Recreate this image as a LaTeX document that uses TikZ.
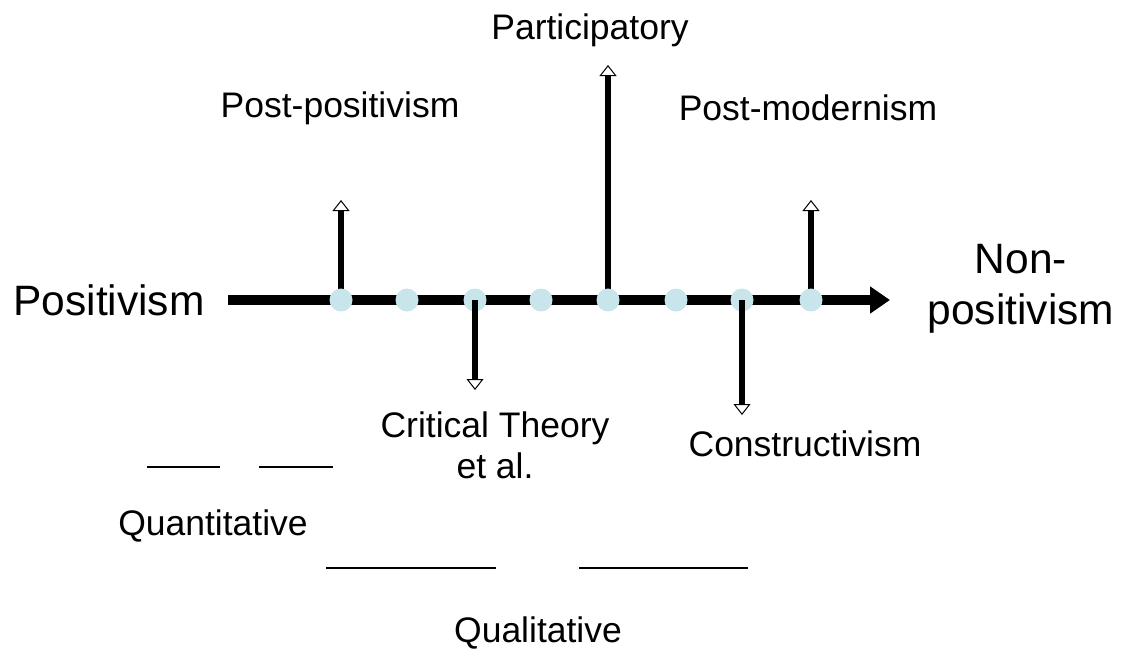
\documentclass[tikz,border=0pt]{standalone}
\usepackage{fontspec}
\setmainfont{Liberation Sans}
\usetikzlibrary{arrows.meta}
\begin{document}
\begin{tikzpicture}[x=1pt,y=-1pt,
  lbl/.style={inner sep=0pt, font=\fontsize{35.5}{41}\selectfont, align=center},
  biglbl/.style={inner sep=0pt, font=\fontsize{42.5}{51}\selectfont, align=center},
  dot/.style={circle, fill=dotcyan, minimum size=23pt, inner sep=0pt},
  stem/.style={line width=6pt, -{Triangle[open, length=11pt, width=17pt, line width=1pt]}},
  axis/.style={line width=10pt, -{Triangle[length=20pt, width=26pt]}},
  bar/.style={line width=2pt}]
\definecolor{dotcyan}{RGB}{199,229,234}
\useasboundingbox (0,0) rectangle (1121,654);

% main scale
\coordinate (axL) at (228,300);
\coordinate (axR) at (890,300);
\draw[axis] (axL) -- (axR);

% upward stems (behind the dots)
\coordinate (u1) at (341,200);
\coordinate (u2) at (608,65);
\coordinate (u3) at (811,200);
\draw[stem] (341,300) -- (u1);
\draw[stem] (608,300) -- (u2);
\draw[stem] (811,300) -- (u3);

% points on the scale
\foreach \n/\x in {d1/341,d2/407,d3/475,d4/541,d5/608,d6/676,d7/742,d8/811}
  \node[dot] (\n) at (\x,300) {};

% downward stems
\coordinate (w1) at (475,390);
\coordinate (w2) at (742,415);
\draw[stem] (d3.center) -- (w1);
\draw[stem] (d7.center) -- (w2);

% labels
\node[biglbl] (pos) at (109,300) {Positivism};
\node[biglbl] (nonpos) at (1021,289) {Non-\\positivism};
\node[lbl] (part) at (590,30) {Participatory};
\node[lbl] (postpos) at (340,108) {Post-positivism};
\node[lbl] (postmod) at (808,108) {Post-modernism};
\node[lbl] (crit) at (495,445) {Critical Theory\\et al.};
\node[lbl] (cons) at (805,444) {Constructivism};
\node[lbl] (quant) at (213,526) {Quantitative};
\node[lbl] (qual) at (538,633) {Qualitative};

% blanks
\coordinate (b1a) at (147,467); \coordinate (b1b) at (220,467);
\coordinate (b2a) at (259,467); \coordinate (b2b) at (333,467);
\coordinate (b3a) at (326,568); \coordinate (b3b) at (496,568);
\coordinate (b4a) at (579,568); \coordinate (b4b) at (748,568);
\draw[bar] (b1a) -- (b1b);
\draw[bar] (b2a) -- (b2b);
\draw[bar] (b3a) -- (b3b);
\draw[bar] (b4a) -- (b4b);
\end{tikzpicture}
\end{document}
